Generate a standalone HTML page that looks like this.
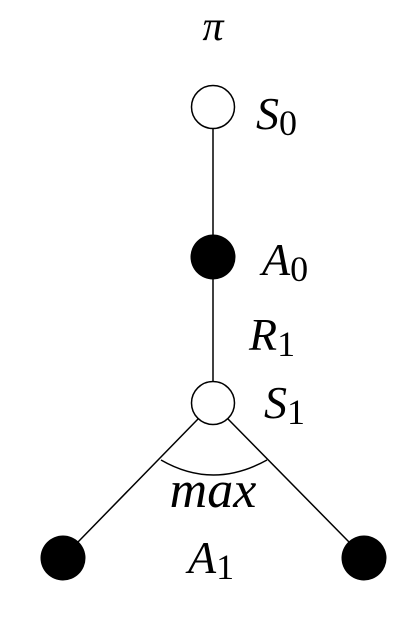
<!DOCTYPE html>
<html><head><meta charset="utf-8"><style>
html,body{margin:0;padding:0;background:#fff;}
svg{display:block;}
text{font-family:"Liberation Serif",serif;font-style:italic;fill:#000;}
.sub{font-style:normal;}
</style></head><body>
<svg width="416" height="622" viewBox="0 0 416 622">
<g stroke="#000" stroke-width="1.5" fill="none">
<line x1="213" y1="129" x2="213" y2="236"/>
<line x1="213" y1="279" x2="213" y2="381"/>
<line x1="198" y1="419" x2="78" y2="542"/>
<line x1="228" y1="419" x2="349" y2="542"/>
<path d="M161,460 Q213,490 267,460"/>
</g>
<circle cx="213" cy="107" r="21.5" fill="#fff" stroke="#000" stroke-width="1.5"/>
<circle cx="213" cy="257" r="22.5" fill="#000"/>
<circle cx="213" cy="403" r="21.5" fill="#fff" stroke="#000" stroke-width="1.5"/>
<circle cx="63" cy="558" r="22.5" fill="#000"/>
<circle cx="364" cy="558" r="22.5" fill="#000"/>
<text x="213" y="40" font-size="42" text-anchor="middle">π</text>
<text x="256" y="129" font-size="46">S<tspan class="sub" font-size="36" dy="6">0</tspan></text>
<text x="262" y="275" font-size="46">A<tspan class="sub" font-size="36" dy="6">0</tspan></text>
<text x="249" y="350" font-size="46">R<tspan class="sub" font-size="36" dy="6">1</tspan></text>
<text x="264" y="418" font-size="46">S<tspan class="sub" font-size="36" dy="6">1</tspan></text>
<text x="213" y="507" font-size="52" text-anchor="middle">max</text>
<text x="188" y="573" font-size="46">A<tspan class="sub" font-size="36" dy="6">1</tspan></text>
</svg>
</body></html>
